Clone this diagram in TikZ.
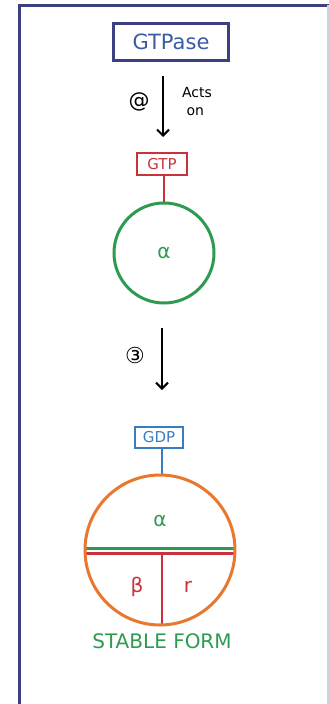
\documentclass[tikz,border=0pt]{standalone}
\usepackage{fontspec}
\setmainfont{DejaVu Sans}
\usetikzlibrary{arrows.meta}
\definecolor{navy}{HTML}{3D4080}
\definecolor{ink}{HTML}{3B5BA5}
\definecolor{gtpred}{HTML}{C8323C}
\definecolor{gdpblue}{HTML}{3A7CC0}
\definecolor{leaf}{HTML}{2E9A50}
\definecolor{tangerine}{HTML}{E8782E}
\tikzset{
  labelbox/.style={draw, line width=2.4pt, inner sep=0pt, rectangle},
  downarrow/.style={line width=2pt, -{Straight Barb[length=6pt,width=12pt,line width=2pt]}},
  handtext/.style={font=\fontsize{#1}{#1}\selectfont, inner sep=0pt},
  handtext/.default=12
}
\begin{document}
\begin{tikzpicture}[x=1pt,y=-1pt]
\useasboundingbox (0,0) rectangle (329,704);
% page frame, open at the bottom
\draw[navy, line width=3pt] (19,704) -- (19,5) -- (329,5);
\draw[navy!25, line width=1.2pt] (328,5) -- (328,704);

% enzyme label
\node[labelbox, draw=navy, minimum width=115pt, minimum height=37pt, text=ink,
      handtext=21] (gtpase) at (171,42) {GTPase};

% step 2: GTPase acts on the GTP-bound alpha subunit
\coordinate (a1s) at (163,76);
\coordinate (a1e) at (163,137);
\draw[downarrow] (a1s) -- (a1e);
\node[handtext=21] (step2) at (139,102) {@};
\node[font=\fontsize{14}{18}\selectfont, inner sep=0pt, align=left] (acts) at (197,101) {Acts\\\ on};

% GTP on the alpha subunit
\node[labelbox, draw=gtpred, text=gtpred, minimum width=50pt, minimum height=22pt,
      handtext=15] (gtp) at (162,164) {GTP};
\node[circle, draw=leaf, line width=3pt, minimum size=100pt, inner sep=0pt,
      text=leaf, handtext=20] (alpha1) at (164,253) {α};
\draw[gtpred, line width=2.4pt] (gtp.south -| alpha1.north) -- (alpha1.north);

% step 3: hydrolysis
\coordinate (a2s) at (162,328);
\coordinate (a2e) at (162,390);
\draw[downarrow] (a2s) -- (a2e);
\node[handtext=22] (step3) at (135,355) {③};

% GDP on the heterotrimer
\node[labelbox, draw=gdpblue, text=gdpblue, minimum width=48pt, minimum height=21pt,
      handtext=15] (gdp) at (159,437.5) {GDP};
\node[circle, minimum size=150pt, inner sep=0pt] (trimer) at (160,550) {};
\draw[gdpblue, line width=2.4pt] (162,448) -- (162,475);

% subunit dividers
\draw[leaf, line width=3pt] (85.5,548) -- (234.5,548);
\draw[gtpred, line width=3pt] (85.5,553) -- (234.5,553);
\draw[gtpred, line width=2.6pt] (162,553) -- (162,625);
\draw[tangerine, line width=3pt] (trimer) circle (75);

\node[text=leaf, handtext=20] (alpha2) at (160,521) {α};
\node[text=gtpred, handtext=20] (beta) at (137,587) {β};
\node[text=gtpred, handtext=20] (gamma) at (188,587) {r};
\node[text=leaf, handtext=20] (stable) at (162,641) {STABLE FORM};
\end{tikzpicture}
\end{document}
